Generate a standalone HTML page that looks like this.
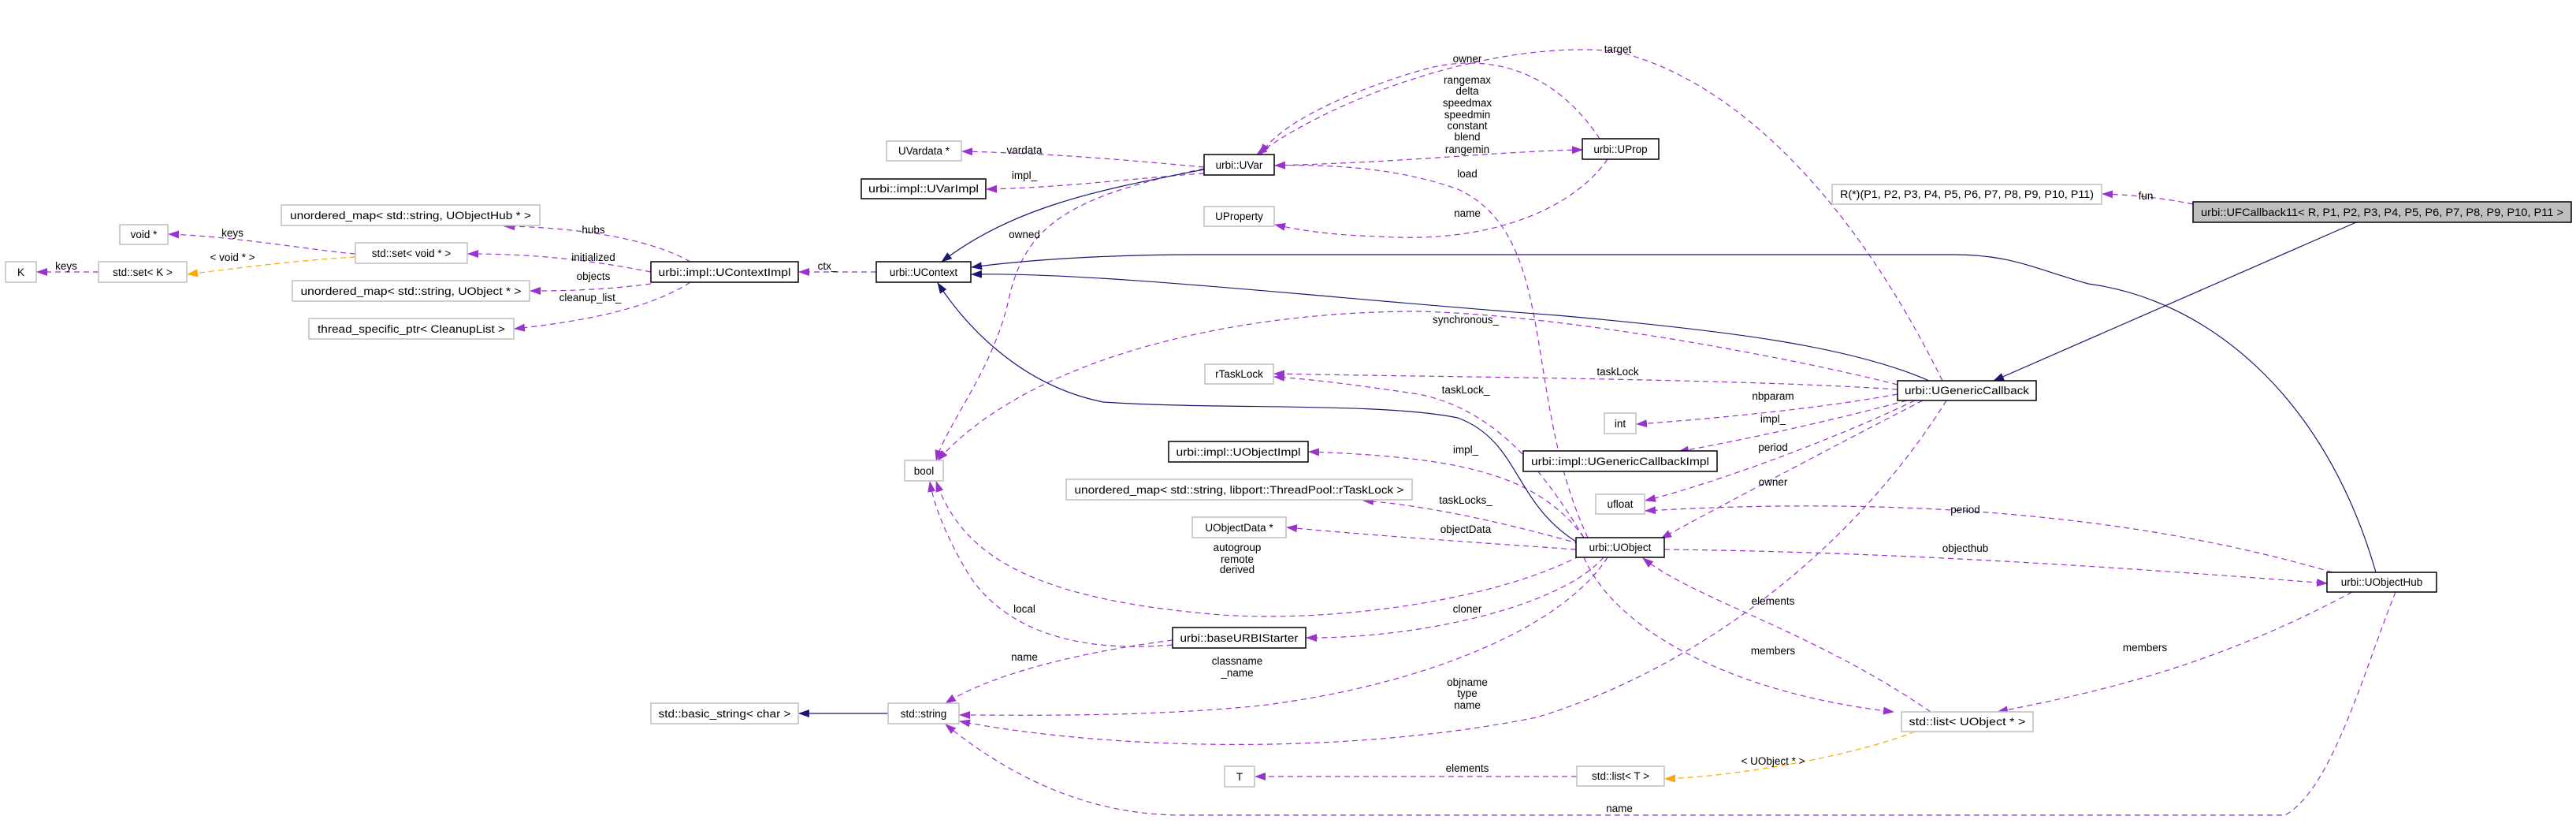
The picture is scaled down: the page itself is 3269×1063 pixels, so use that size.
<!DOCTYPE html>
<html><head><meta charset="utf-8"><style>
html,body{margin:0;padding:0;background:#fff;}
svg{display:block;}
text{font-family:"Liberation Sans",sans-serif;font-size:13.5px;fill:#000;}
.g{fill:#fff;stroke:#bfbfbf;stroke-width:1.5;}
.b{fill:#fff;stroke:#000;stroke-width:1.5;}
.p{fill:none;stroke:#9a32cd;stroke-width:1.2;stroke-dasharray:7,5;}
.o{fill:none;stroke:#ffa500;stroke-width:1.2;stroke-dasharray:7,5;}
.n{fill:none;stroke:#191970;stroke-width:1.2;}
.l{text-anchor:middle;}
</style></head><body>
<svg width="3269" height="1063" viewBox="0 0 3269 1063" xmlns="http://www.w3.org/2000/svg">
<defs>
<marker id="mp" viewBox="0 0 14 10" refX="13" refY="5" markerWidth="14" markerHeight="10" markerUnits="userSpaceOnUse" orient="auto"><path d="M0,0 L14,5 L0,10 z" fill="#9a32cd"/></marker>
<marker id="mo" viewBox="0 0 14 10" refX="13" refY="5" markerWidth="14" markerHeight="10" markerUnits="userSpaceOnUse" orient="auto"><path d="M0,0 L14,5 L0,10 z" fill="#ffa500"/></marker>
<marker id="mn" viewBox="0 0 14 10" refX="13" refY="5" markerWidth="14" markerHeight="10" markerUnits="userSpaceOnUse" orient="auto"><path d="M0,0 L14,5 L0,10 z" fill="#191970"/></marker>
</defs>

<g marker-end="url(#mp)">
<path class="p" d="M125,345 L47,345"/>
<path class="p" d="M451,322 C400,318 300,300 214,297"/>
<path class="p" d="M876,332 C820,300 720,288 640,287"/>
<path class="p" d="M826,345 C750,330 680,322 594,322"/>
<path class="p" d="M826,360 C760,369 700,369 673,369"/>
<path class="p" d="M876,358 C820,395 720,410 653,417"/>
<path class="p" d="M1112,345 L1014,345"/>
<path class="p" d="M1528,212 C1450,205 1350,195 1221,192"/>
<path class="p" d="M1528,220 C1450,225 1350,238 1252,240"/>
<path class="p" d="M1528,214 C1350,250 1300,290 1280,380 C1260,470 1200,540 1188,584"/>
<path class="p" d="M1617,210 C1800,205 1900,192 2008,190"/>
<path class="p" d="M2030,176 C1980,100 1900,60 1800,90 C1700,120 1620,160 1600,196"/>
<path class="p" d="M2465,483 C2350,250 2200,100 2050,65 C1900,50 1700,120 1595,196"/>
<path class="p" d="M2015,682 C1930,500 1980,300 1850,240 C1780,215 1700,208 1618,210"/>
<path class="p" d="M2040,202 C2000,260 1900,310 1750,300 C1680,298 1640,290 1618,285"/>
<path class="p" d="M2408,488 C2300,460 2000,400 1800,395 C1550,395 1300,460 1190,584"/>
<path class="p" d="M2408,494 C2200,480 1800,478 1617,474"/>
<path class="p" d="M2010,682 C1960,600 1900,520 1800,500 C1700,485 1650,480 1617,478"/>
<path class="p" d="M2408,500 C2300,520 2150,533 2077,538"/>
<path class="p" d="M2420,508 C2300,540 2200,560 2130,573"/>
<path class="p" d="M2430,508 C2300,570 2150,620 2088,635"/>
<path class="p" d="M2440,508 C2300,580 2150,660 2108,683"/>
<path class="p" d="M2010,682 C1950,600 1850,580 1661,573"/>
<path class="p" d="M2005,690 C1900,660 1800,640 1730,635"/>
<path class="p" d="M2000,697 C1900,690 1750,680 1633,669"/>
<path class="p" d="M2005,705 C1900,760 1700,790 1550,780 C1300,760 1220,700 1188,611"/>
<path class="p" d="M2035,707 C1980,770 1800,810 1658,809"/>
<path class="p" d="M1488,818 C1350,830 1270,790 1230,730 C1200,680 1185,640 1180,611"/>
<path class="p" d="M1488,812 C1350,830 1250,860 1200,892"/>
<path class="p" d="M2040,707 C1980,800 1800,870 1600,895 C1450,910 1300,907 1218,907"/>
<path class="p" d="M2470,508 C2350,700 2150,850 1950,910 C1700,960 1400,950 1218,915"/>
<path class="p" d="M3040,751 C3000,850 2960,1000 2900,1034 L1500,1034 C1400,1034 1300,1000 1200,919"/>
<path class="p" d="M2001,985 L1593,985"/>
<path class="p" d="M2010,707 C2050,800 2200,880 2403,903"/>
<path class="p" d="M2450,903 C2300,800 2150,760 2085,708"/>
<path class="p" d="M2985,751 C2800,850 2650,880 2535,903"/>
<path class="p" d="M2960,726 C2700,650 2400,630 2088,648"/>
<path class="p" d="M2112,697 C2400,700 2700,720 2953,740"/>
<path class="p" d="M2783,259 C2740,250 2700,247 2668,246"/>
</g>
<g marker-end="url(#mo)">
<path class="o" d="M451,326 C380,330 300,340 238,348"/>
<path class="o" d="M2430,928 C2350,960 2200,985 2113,988"/>
</g>
<g marker-end="url(#mn)">
<path class="n" d="M1528,215 C1400,240 1290,260 1195,332"/>
<path class="n" d="M2448,483 C2350,440 2200,420 1976,400 C1700,380 1400,345 1233,348"/>
<path class="n" d="M3015,726 C2950,500 2800,380 2650,360 C2580,340 2550,323 2480,323 L1520,323 C1400,323 1300,330 1233,339"/>
<path class="n" d="M2005,690 C1920,640 1930,560 1850,530 C1750,510 1550,520 1400,510 C1300,490 1230,420 1190,359"/>
<path class="n" d="M2990,282 L2530,483"/>
<path class="n" d="M1127,905 L1014,905"/>
</g>

<g>
<rect class="g" x="7" y="332" width="39" height="26"/><text class="l" x="26.5" y="350">K</text>
<rect class="g" x="125" y="332" width="112" height="26"/><text class="l" x="181" y="350">std::set&lt; K &gt;</text>
<rect class="g" x="152" y="285" width="61" height="25"/><text class="l" x="182.5" y="302">void *</text>
<rect class="g" x="451" y="308" width="142" height="26"/><text class="l" x="522" y="326">std::set&lt; void * &gt;</text>
<rect class="g" x="357" y="260" width="328" height="26"/><text class="l" x="521" y="278" textLength="306" lengthAdjust="spacingAndGlyphs">unordered_map&lt; std::string, UObjectHub * &gt;</text>
<rect class="g" x="371" y="356" width="301" height="26"/><text class="l" x="521.5" y="374" textLength="280" lengthAdjust="spacingAndGlyphs">unordered_map&lt; std::string, UObject * &gt;</text>
<rect class="g" x="392" y="404" width="260" height="26"/><text class="l" x="522" y="422" textLength="238" lengthAdjust="spacingAndGlyphs">thread_specific_ptr&lt; CleanupList &gt;</text>
<rect class="b" x="826" y="332" width="187" height="26"/><text class="l" x="919.5" y="350" textLength="168" lengthAdjust="spacingAndGlyphs">urbi::impl::UContextImpl</text>
<rect class="b" x="1112" y="332" width="120" height="26"/><text class="l" x="1172" y="350">urbi::UContext</text>
<rect class="g" x="1125" y="179" width="95" height="25"/><text class="l" x="1172.5" y="196">UVardata *</text>
<rect class="b" x="1093" y="227" width="158" height="25"/><text class="l" x="1172" y="244" textLength="140" lengthAdjust="spacingAndGlyphs">urbi::impl::UVarImpl</text>
<rect class="b" x="1528" y="196" width="89" height="26"/><text class="l" x="1572.5" y="214">urbi::UVar</text>
<rect class="b" x="2008" y="176" width="97" height="26"/><text class="l" x="2056.5" y="194">urbi::UProp</text>
<rect class="g" x="1528" y="262" width="89" height="25"/><text class="l" x="1572.5" y="279">UProperty</text>
<rect class="g" x="2325" y="234" width="342" height="25"/><text class="l" x="2496" y="251" textLength="322" lengthAdjust="spacingAndGlyphs">R(*)(P1, P2, P3, P4, P5, P6, P7, P8, P9, P10, P11)</text>
<rect x="2783" y="256" width="480" height="26" fill="#bfbfbf" stroke="#000" stroke-width="1.5"/><text class="l" x="3023" y="274" textLength="460" lengthAdjust="spacingAndGlyphs">urbi::UFCallback11&lt; R, P1, P2, P3, P4, P5, P6, P7, P8, P9, P10, P11 &gt;</text>
<rect class="b" x="2408" y="483" width="176" height="25"/><text class="l" x="2496" y="500" textLength="158" lengthAdjust="spacingAndGlyphs">urbi::UGenericCallback</text>
<rect class="g" x="1529" y="462" width="87" height="25"/><text class="l" x="1572.5" y="479">rTaskLock</text>
<rect class="g" x="2036" y="524" width="40" height="26"/><text class="l" x="2056" y="542">int</text>
<rect class="b" x="1933" y="572" width="246" height="26"/><text class="l" x="2056" y="590" textLength="226" lengthAdjust="spacingAndGlyphs">urbi::impl::UGenericCallbackImpl</text>
<rect class="b" x="1483" y="560" width="177" height="26"/><text class="l" x="1571.5" y="578" textLength="158" lengthAdjust="spacingAndGlyphs">urbi::impl::UObjectImpl</text>
<rect class="g" x="1353" y="608" width="439" height="26"/><text class="l" x="1572.5" y="626" textLength="418" lengthAdjust="spacingAndGlyphs">unordered_map&lt; std::string, libport::ThreadPool::rTaskLock &gt;</text>
<rect class="g" x="1513" y="656" width="119" height="26"/><text class="l" x="1572.5" y="674">UObjectData *</text>
<rect class="g" x="2025" y="627" width="62" height="25"/><text class="l" x="2056" y="644">ufloat</text>
<rect class="b" x="2000" y="682" width="112" height="25"/><text class="l" x="2056" y="699">urbi::UObject</text>
<rect class="g" x="1148" y="584" width="49" height="26"/><text class="l" x="1172.5" y="602">bool</text>
<rect class="b" x="1488" y="796" width="169" height="26"/><text class="l" x="1572.5" y="814" textLength="150" lengthAdjust="spacingAndGlyphs">urbi::baseURBIStarter</text>
<rect class="g" x="1127" y="892" width="90" height="26"/><text class="l" x="1172" y="910">std::string</text>
<rect class="g" x="826" y="892" width="187" height="26"/><text class="l" x="919.5" y="910" textLength="168" lengthAdjust="spacingAndGlyphs">std::basic_string&lt; char &gt;</text>
<rect class="g" x="1554" y="972" width="38" height="26"/><text class="l" x="1573" y="990">T</text>
<rect class="g" x="2001" y="972" width="111" height="25"/><text class="l" x="2056.5" y="989">std::list&lt; T &gt;</text>
<rect class="b" x="2953" y="726" width="139" height="25"/><text class="l" x="3022.5" y="743">urbi::UObjectHub</text>
<rect class="g" x="2413" y="903" width="167" height="25"/><text class="l" x="2496.5" y="920" textLength="148" lengthAdjust="spacingAndGlyphs">std::list&lt; UObject * &gt;</text>
</g>

<g>
<text class="l" x="84" y="342">keys</text>
<text class="l" x="295" y="300">keys</text>
<text class="l" x="295" y="331">&lt; void * &gt;</text>
<text class="l" x="753" y="296">hubs</text>
<text class="l" x="753" y="331">initialized</text>
<text class="l" x="753" y="355">objects</text>
<text class="l" x="749" y="382">cleanup_list_</text>
<text class="l" x="1050" y="342">ctx_</text>
<text class="l" x="1300" y="195">vardata</text>
<text class="l" x="1300" y="227">impl_</text>
<text class="l" x="1300" y="302">owned</text>
<text class="l" x="2053" y="67">target</text>
<text class="l" x="1862" y="79">owner</text>
<text class="l" x="1862" y="106">rangemax</text>
<text class="l" x="1862" y="120">delta</text>
<text class="l" x="1862" y="135">speedmax</text>
<text class="l" x="1862" y="150">speedmin</text>
<text class="l" x="1862" y="164">constant</text>
<text class="l" x="1862" y="178">blend</text>
<text class="l" x="1862" y="194">rangemin</text>
<text class="l" x="1862" y="225">load</text>
<text class="l" x="1862" y="275">name</text>
<text class="l" x="2723" y="253">fun</text>
<text class="l" x="1860" y="410">synchronous_</text>
<text class="l" x="2053" y="476">taskLock</text>
<text class="l" x="1860" y="499">taskLock_</text>
<text class="l" x="2250" y="507">nbparam</text>
<text class="l" x="2250" y="536">impl_</text>
<text class="l" x="1860" y="575">impl_</text>
<text class="l" x="2250" y="572">period</text>
<text class="l" x="2250" y="616">owner</text>
<text class="l" x="1860" y="639">taskLocks_</text>
<text class="l" x="2494" y="651">period</text>
<text class="l" x="1860" y="676">objectData</text>
<text class="l" x="1570" y="699">autogroup</text>
<text class="l" x="1570" y="714">remote</text>
<text class="l" x="1570" y="727">derived</text>
<text class="l" x="2494" y="700">objecthub</text>
<text class="l" x="2250" y="767">elements</text>
<text class="l" x="1300" y="777">local</text>
<text class="l" x="1862" y="777">cloner</text>
<text class="l" x="2250" y="830">members</text>
<text class="l" x="2722" y="826">members</text>
<text class="l" x="1300" y="838">name</text>
<text class="l" x="1570" y="843">classname</text>
<text class="l" x="1570" y="858">_name</text>
<text class="l" x="1862" y="870">objname</text>
<text class="l" x="1862" y="884">type</text>
<text class="l" x="1862" y="899">name</text>
<text class="l" x="1862" y="979">elements</text>
<text class="l" x="2250" y="970">&lt; UObject * &gt;</text>
<text class="l" x="2055" y="1030">name</text>
</g>
</svg>
</body></html>
